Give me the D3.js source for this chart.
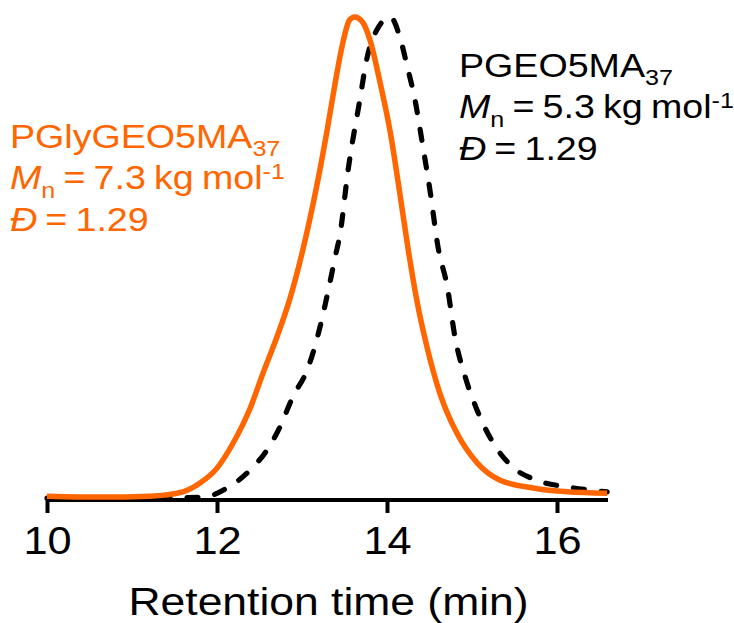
<!DOCTYPE html>
<html>
<head>
<meta charset="utf-8">
<script src="https://cdn.jsdelivr.net/npm/d3@7"></script>
<style>
  html, body { margin: 0; padding: 0; background: #fff; }
  svg { display: block; }
  text { font-family: "Liberation Sans", Arial, Helvetica, sans-serif; }
</style>
</head>
<body>
<svg id="chart" width="734" height="623"></svg>
<script>
// Retention time (min) and normalized intensity
const orangeTime = [10.0, 10.62, 11.21, 11.60, 11.80, 12.00, 12.19, 12.39, 12.54, 12.71, 12.86, 13.01, 13.18, 13.29, 13.39, 13.47, 13.56, 13.62, 13.71, 13.80, 13.92, 14.04, 14.15, 14.25, 14.35, 14.47, 14.62, 14.82, 15.06, 15.33, 15.72, 16.12, 16.59];
const orangeSignal = [0.008, 0.006, 0.008, 0.017, 0.035, 0.066, 0.118, 0.19, 0.262, 0.34, 0.418, 0.518, 0.656, 0.760, 0.863, 0.938, 0.994, 1.0, 0.99, 0.952, 0.863, 0.760, 0.636, 0.518, 0.414, 0.317, 0.222, 0.139, 0.077, 0.041, 0.025, 0.017, 0.014];

const blackTime = [10.0, 11.21, 11.84, 12.12, 12.39, 12.59, 12.74, 12.89, 13.06, 13.15, 13.24, 13.31, 13.39, 13.45, 13.54, 13.68, 13.76, 13.88, 14.04, 14.15, 14.24, 14.33, 14.41, 14.51, 14.60, 14.71, 14.80, 14.92, 15.06, 15.25, 15.48, 15.76, 16.12, 16.47, 16.59];
const blackSignal = [0.004, 0.004, 0.006, 0.025, 0.062, 0.104, 0.151, 0.213, 0.269, 0.317, 0.379, 0.435, 0.503, 0.553, 0.68, 0.828, 0.911, 0.973, 1.0, 0.959, 0.896, 0.828, 0.745, 0.636, 0.524, 0.441, 0.337, 0.255, 0.186, 0.118, 0.068, 0.041, 0.027, 0.019, 0.017];

const xTicks = [10, 12, 14, 16];
const xDomain = [10, 16.6];
const xTitle = "Retention time (min)";

const orangeLabel = { name: "PGlyGEO5MA", sub: "37", mn: " = 7.3 kg mol", sup: "-1", dispersity: " = 1.29" };
const blackLabel = { name: "PGEO5MA", sub: "37", mn: " = 5.3 kg mol", sup: "-1", dispersity: " = 1.29" };

const ORANGE = "#ff6600";
const svg = d3.select("#chart");

const x = d3.scaleLinear().domain(xDomain).range([47, 608]);
const y = d3.scaleLinear().domain([0, 1]).range([500, 17]);

// axis
const axis = d3.axisBottom(x).tickValues(xTicks).tickSize(13).tickFormat(d3.format("d"));
const gx = svg.append("g").attr("transform", "translate(0,500)").call(axis);
gx.select(".domain").attr("stroke", "#000").attr("stroke-width", 4)
  .attr("d", `M${x(xDomain[0])},0H${x(xDomain[1])}`);
gx.selectAll(".tick line").attr("stroke", "#000").attr("stroke-width", 4);
gx.selectAll(".tick text").remove();

const HS = 1.14; // horizontal stretch of text seen in the picture

gx.selectAll(".tick").each(function(d) {
  d3.select(this).append("g")
    .attr("transform", `translate(0,54) scale(${HS},1)`)
    .append("text")
    .attr("text-anchor", "middle")
    .attr("font-size", 38)
    .attr("fill", "#000")
    .text(d);
});

svg.append("g")
  .attr("transform", `translate(${(x(10) + x(16.6)) / 2 + 1},615) scale(${HS},1)`)
  .append("text")
  .attr("text-anchor", "middle")
  .attr("font-size", 39)
  .attr("fill", "#000")
  .text(xTitle);

// curves
const line = d3.line().x(d => x(d[0])).y(d => y(d[1])).curve(d3.curveMonotoneX);

svg.append("path")
  .datum(d3.zip(blackTime, blackSignal))
  .attr("d", line)
  .attr("fill", "none")
  .attr("stroke", "#000")
  .attr("stroke-width", 5.2)
  .attr("stroke-linecap", "round")
  .attr("stroke-dasharray", "11,17");

svg.append("path")
  .datum(d3.zip(orangeTime, orangeSignal))
  .attr("d", line)
  .attr("fill", "none")
  .attr("stroke", ORANGE)
  .attr("stroke-width", 5.5)
  .attr("stroke-linejoin", "round");

// labels
function label(lbl, tx, baselines, color) {
  const fs = 33, small = 22;
  const g = svg.append("g").attr("transform", `translate(${tx},0) scale(${HS},1)`).attr("fill", color);
  const t1 = g.append("text").attr("y", baselines[0]).attr("font-size", fs);
  t1.append("tspan").text(lbl.name);
  t1.append("tspan").attr("font-size", small).attr("dy", 8).text(lbl.sub);

  const t2 = g.append("text").attr("y", baselines[1]).attr("font-size", fs).attr("word-spacing", -2);
  t2.append("tspan").attr("font-style", "italic").text("M");
  t2.append("tspan").attr("font-size", small).attr("dy", 9).text("n");
  t2.append("tspan").attr("dy", -9).text(lbl.mn);
  t2.append("tspan").attr("font-size", small).attr("dy", -10).text(lbl.sup);

  const t3 = g.append("text").attr("y", baselines[2]).attr("font-size", fs).attr("word-spacing", -2);
  t3.append("tspan").attr("font-style", "italic").text("Đ");
  t3.append("tspan").text(lbl.dispersity);
}

label(orangeLabel, 10, [148, 189, 231], ORANGE);
label(blackLabel, 459, [77, 118, 160], "#000");
</script>
</body>
</html>
